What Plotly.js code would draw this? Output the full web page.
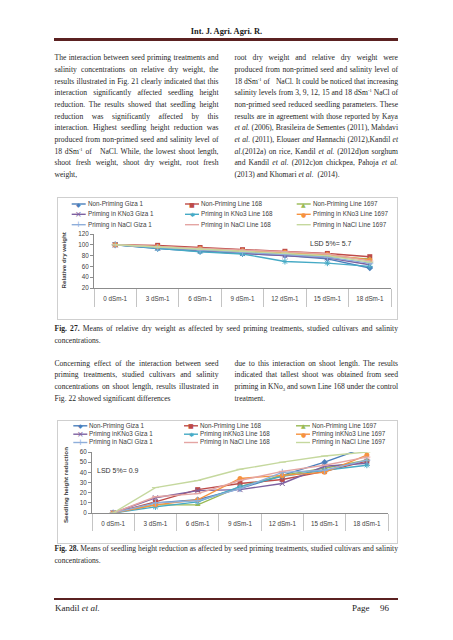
<!DOCTYPE html>
<html>
<head>
<meta charset="utf-8">
<script src="https://cdn.plot.ly/plotly-3.0.1.min.js"></script>
<style>
  html, body { margin:0; padding:0; background:#fff; }
  body { width:453px; height:640px; position:relative; overflow:hidden; }
  .ln { position:absolute; font-family:'Liberation Serif', serif; font-size:7.6px; line-height:12px;
        color:#1f1f1f; text-align:justify; text-align-last:justify; white-space:normal; }
  .last { text-align-last:left; }
  sup { font-size:4.6px; vertical-align:2.8px; line-height:0; }
  sub { font-size:4.8px; vertical-align:-1.5px; line-height:0; }
  .frame { position:absolute; border:1px solid #cfcfcf; box-sizing:border-box; }
  .chart { position:absolute; }
  .rule1 { position:absolute; left:54px; width:344px; height:1.8px; background:#5b2121; }
  .rule2 { position:absolute; left:54px; width:344px; height:0.7px; background:#5b2121; }
</style>
</head>
<body>
<div style="position:absolute;left:0;width:453px;top:26px;text-align:center;font-family:'Liberation Serif',serif;font-weight:bold;font-size:8.4px;line-height:12px;color:#1a1a1a;">Int. J. Agri. Agri. R.</div>
<div class="rule1" style="top:38px;"></div>
<div class="rule2" style="top:40.4px;"></div>

<div id="textblock"></div>

<div class="frame" style="left:57px;top:197px;width:341px;height:123px;"></div>
<div id="chart1" class="chart" style="left:57px;top:197px;width:341px;height:123px;"></div>

<div class="frame" style="left:57px;top:420px;width:341px;height:124px;"></div>
<div id="chart2" class="chart" style="left:57px;top:420px;width:341px;height:124px;"></div>

<div class="rule2" style="top:597.6px;"></div>
<div class="rule1" style="top:598.6px;"></div>
<div style="position:absolute;left:55px;top:602px;font-family:'Liberation Serif',serif;font-size:9px;line-height:12px;color:#1a1a1a;">Kandil <i>et al.</i></div>
<div style="position:absolute;left:352px;top:602px;font-family:'Liberation Serif',serif;font-size:9px;line-height:12px;color:#1a1a1a;">Page</div>
<div style="position:absolute;left:380px;top:602px;font-family:'Liberation Serif',serif;font-size:9px;line-height:12px;color:#1a1a1a;">96</div>

<script>
// ---------- page text ----------
const leftCol1 = [
  "The interaction between seed priming treatments and",
  "salinity concentrations on relative dry weight, the",
  "results illustrated in Fig. 21 clearly indicated that this",
  "interaction significantly affected seedling height",
  "reduction. The results showed that seedling height",
  "reduction was significantly affected by this",
  "interaction. Highest seedling height reduction was",
  "produced from non-primed seed and salinity level of",
  "18 dSm<sup>-1</sup> of &nbsp;&nbsp;NaCl. While, the lowest shoot length,",
  "shoot fresh weight, shoot dry weight, root fresh",
  "weight,"
];
const rightCol1 = [
  "root dry weight and relative dry weight were",
  "produced from non-primed seed and salinity level of",
  "18 dSm<sup>-1</sup> of &nbsp;&nbsp;NaCl. It could be noticed that increasing",
  "salinity levels from 3, 9, 12, 15 and 18 dSm<sup>-1</sup> NaCl of",
  "non-primed seed reduced seedling parameters. These",
  "results are in agreement with those reported by Kaya",
  "<i>et al.</i> (2006), Brasileira de Sementes (2011), Mahdavi",
  "<i>et al.</i> (2011), Elouaer <i>and</i> Hannachi (2012),Kandil <i>et</i>",
  "<i>al.</i>(2012a) on rice, Kandil <i>et al.</i> (2012d)on sorghum",
  "and Kandil <i>et al.</i> (2012c)on chickpea, Pahoja <i>et al.</i>",
  "(2013) and Khomari <i>et al.</i> &nbsp;(2014)."
];
const caption1 = [
  "<b>Fig. 27.</b> Means of relative dry weight as affected by seed priming treatments, studied cultivars and salinity",
  "concentrations."
];
const leftCol2 = [
  "Concerning effect of the interaction between seed",
  "priming treatments, studied cultivars and salinity",
  "concentrations on shoot length, results illustrated in",
  "Fig. 22 showed significant differences"
];
const rightCol2 = [
  "due to this interaction on shoot length. The results",
  "indicated that tallest shoot was obtained from seed",
  "priming in KNo<sub>3</sub> and sown Line 168 under the control",
  "treatment."
];
const caption2 = [
  "<b>Fig. 28.</b> Means of seedling height reduction as affected by seed priming treatments, studied cultivars and salinity",
  "concentrations."
];

function placeLines(lines, left, width, firstCenter, step) {
  const tb = document.getElementById('textblock');
  lines.forEach((t, i) => {
    const d = document.createElement('div');
    d.className = 'ln' + (i === lines.length - 1 ? ' last' : '');
    d.style.left = left + 'px';
    d.style.width = width + 'px';
    d.style.top = (firstCenter + i * step - 6.4) + 'px';
    d.innerHTML = t;
    tb.appendChild(d);
    // keep each line on one row: tighten letter spacing if it would wrap
    let ls = 0;
    while (d.getBoundingClientRect().height > 13 && ls > -0.6) {
      ls -= 0.05;
      d.style.letterSpacing = ls.toFixed(2) + 'px';
    }
  });
}
placeLines(leftCol1, 54.5, 164, 58.7, 11.67);
placeLines(rightCol1, 234.5, 163.5, 58.7, 11.67);
placeLines(caption1, 54.5, 343.5, 329, 12.2);
placeLines(leftCol2, 54.5, 164, 364, 11.67);
placeLines(rightCol2, 234.5, 163.5, 364, 11.67);
placeLines(caption2, 54.5, 343.5, 549, 12.2);

// ---------- chart data ----------
const categories = ['0 dSm-1','3 dSm-1','6 dSm-1','9 dSm-1','12 dSm-1','15 dSm-1','18 dSm-1'];
const seriesNames = [
  'Non-Priming Giza 1','Non-Priming Line 168','Non-Priming Line 1697',
  'Priming in KNo3 Giza 1','Priming in KNo3 Line 168','Priming in KNo3 Line 1697',
  'Priming in NaCl Giza 1','Priming in NaCl Line 168','Priming in NaCl Line 1697'
];
const seriesNames2 = [
  'Non-Priming Giza 1','Non-Priming Line 168','Non-Priming Line 1697',
  'Priming inKNo3 Giza 1','Priming inKNo3 Line 168','Priming inKNo3 Line 1697',
  'Priming in NaCl Giza 1','Priming in NaCl Line 168','Priming in NaCl Line 1697'
];

// Fig. 27 relative dry weight
const relDry_NP_Giza1 = [100, 93, 88, 84, 80, 74, 57];
const relDry_NP_L168  = [100, 99, 95, 91, 88, 84, 78];
const relDry_NP_L1697 = [100, 95, 91, 87, 83, 79, 74];
const relDry_K_Giza1  = [100, 94, 89, 84, 80, 76, 63];
const relDry_K_L168   = [100, 93, 87, 83, 69, 66, 60];
const relDry_K_L1697  = [100, 97, 93, 89, 86, 82, 72];
const relDry_Na_Giza1 = [100, 95, 90, 86, 82, 77, 66];
const relDry_Na_L168  = [100, 97, 93, 90, 87, 83, 70];
const relDry_Na_L1697 = [100, 96, 92, 88, 85, 80, 68];

// Fig. 28 seedling height reduction
const shr_NP_Giza1 = [0, 10, 13, 24, 37, 50, 65];
const shr_NP_L168  = [0, 11, 23, 29, 33, 41, 51];
const shr_NP_L1697 = [0, 8, 8, 26, 37, 44, 52];
const shr_K_Giza1  = [0, 15, 22, 23, 29, 46, 49];
const shr_K_L168   = [0, 6, 11, 26, 36, 42, 47];
const shr_K_L1697  = [0, 8, 13, 34, 37, 40, 57];
const shr_Na_Giza1 = [0, 10, 12, 24, 40, 42, 52];
const shr_Na_L168  = [0, 16, 19, 32, 41, 47, 55];
const shr_Na_L1697 = [0, 25, 32, 43, 50, 56, 60];

const yTicks1 = [20, 40, 60, 80, 100, 120];
const yTicks2 = [0, 10, 20, 30, 40, 50, 60];

// ---------- styling ----------
const seriesColors = ['#4A7EBB','#BE4B48','#98B954','#7D60A0','#46AAC5','#F69240','#8EAEDA','#E4A5A3','#C5D89E'];
const seriesSymbols = ['diamond','square','triangle-up','x-thin-open','asterisk-open','circle','cross-thin-open','line-ew-open','line-ew-open'];
const legendGlyph = {'diamond':'\u25C6','square':'\u25A0','triangle-up':'\u25B2','x-thin-open':'\u00D7','asterisk-open':'\u2731','circle':'\u25CF','cross-thin-open':'+','line-ew-open':''};
const FONT = 'Liberation Sans, Arial, sans-serif';

function buildChart(divId, seriesData, names, cfg) {
  const traces = seriesData.map((vals, i) => ({
    type: 'scatter', mode: 'lines+markers', x: categories, y: vals, name: names[i],
    line: {color: seriesColors[i], width: 1.4},
    marker: {symbol: seriesSymbols[i], size: 5,
             color: seriesColors[i], line: {color: seriesColors[i], width: seriesSymbols[i].indexOf('open') >= 0 ? 1 : 0}},
    cliponaxis: true, hoverinfo: 'skip'
  }));
  const m = cfg.margin;
  const plotW = cfg.width - m.l - m.r, plotH = cfg.height - m.t - m.b;
  const px = (x) => (x - cfg.left - m.l) / plotW;
  const py = (y) => 1 - (y - cfg.top - m.t) / plotH;

  const shapes = [], annotations = [];
  names.forEach((n, i) => {
    const r = Math.floor(i / 3), c = i % 3;
    const x0 = cfg.legCols[c], y0 = cfg.legRows[r];
    shapes.push({type:'line', xref:'paper', yref:'paper', x0: px(x0), x1: px(x0 + 14), y0: py(y0), y1: py(y0),
                 line:{color: seriesColors[i], width: 1.4}});
    const g = legendGlyph[seriesSymbols[i]];
    if (g) annotations.push({xref:'paper', yref:'paper', x: px(x0 + 7), y: py(y0), text: g, showarrow:false,
                 xanchor:'center', yanchor:'middle', borderpad:0, font:{family:'DejaVu Sans', size: g === '\u00D7' || g === '+' ? 8 : 6, color: seriesColors[i]}});
    annotations.push({xref:'paper', yref:'paper', x: px(x0 + 15), y: py(y0), text: n, showarrow:false,
                 xanchor:'left', yanchor:'middle', borderpad:0, font:{family: FONT, size: 6.3, color:'#404040'}});
  });
  annotations.push({xref:'paper', yref:'paper', x: px(cfg.lsd.x), y: py(cfg.lsd.y), text: cfg.lsd.text, showarrow:false,
                 xanchor:'center', yanchor:'middle', font:{family: FONT, size: 7, color:'#333'}});
  annotations.push({xref:'paper', yref:'paper', x: px(cfg.ytitle.x), y: cfg.ytitle.yp, text: '<b>' + cfg.ytitle.text + '</b>', showarrow:false,
                 textangle:-90, xanchor:'center', yanchor:'middle', font:{family: FONT, size: 6.2, color:'#404040'}});

  const layout = {
    width: cfg.width, height: cfg.height, margin: m, showlegend: false,
    paper_bgcolor: 'rgba(0,0,0,0)', plot_bgcolor: 'rgba(0,0,0,0)',
    xaxis: {type:'category', range:[-0.5, 6.5], showline:true, linecolor:'#8c8c8c', linewidth:1,
            ticks:'outside', tickson:'boundaries', ticklen: cfg.ticklen, tickcolor:'#c4c4c4', tickwidth:1,
            ticklabelstandoff: cfg.standoff, showgrid:false, zeroline:false,
            tickfont:{family: FONT, size: 6.3, color:'#404040'}},
    yaxis: {range: cfg.yrange, tickvals: cfg.ytickvals, ticks:'outside', ticklen:3, tickcolor:'#8c8c8c',
            showline:true, linecolor:'#8c8c8c', linewidth:1, showgrid:false, zeroline:false,
            tickfont:{family: FONT, size: 6.3, color:'#404040'}},
    shapes: shapes, annotations: annotations
  };
  Plotly.newPlot(divId, traces, layout, {staticPlot:true, displayModeBar:false});
}

buildChart('chart1',
  [relDry_NP_Giza1, relDry_NP_L168, relDry_NP_L1697, relDry_K_Giza1, relDry_K_L168, relDry_K_L1697, relDry_Na_Giza1, relDry_Na_L168, relDry_Na_L1697],
  seriesNames,
  {left:57, top:197, width:341, height:123, margin:{l:37, r:7, t:37, b:32},
   yrange:[20,120], ytickvals: yTicks1, ticklen:18, standoff:4,
   legCols:[71.7, 185, 296.7], legRows:[204, 214.3, 224.7],
   lsd:{x:331, y:243.5, text:'LSD 5%= 5.7'}, ytitle:{x:62.5, yp:0.5, text:'Relative dry weight'}});

buildChart('chart2',
  [shr_NP_Giza1, shr_NP_L168, shr_NP_L1697, shr_K_Giza1, shr_K_L168, shr_K_L1697, shr_Na_Giza1, shr_Na_L168, shr_Na_L1697],
  seriesNames2,
  {left:57, top:420, width:341, height:124, margin:{l:35, r:10, t:32, b:31},
   yrange:[0,60], ytickvals: yTicks2, ticklen:17, standoff:4,
   legCols:[73.3, 184, 296], legRows:[425.8, 434.2, 442.5],
   lsd:{x:118, y:470, text:'LSD 5%= 0.9'}, ytitle:{x:65.5, yp:0.45, text:'Seedling height reduction'}});
</script>
</body>
</html>
